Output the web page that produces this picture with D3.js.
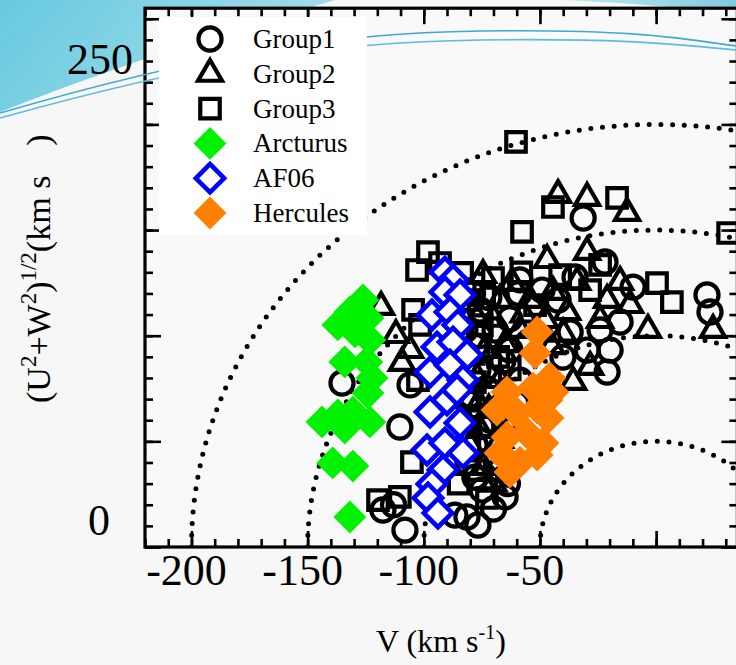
<!DOCTYPE html>
<html>
<head>
<meta charset="utf-8">
<script src="https://cdn.jsdelivr.net/npm/d3@7/dist/d3.min.js"></script>
<style>
  html, body { margin: 0; padding: 0; background: #f7f7f7; }
  svg { display: block; }
  text { font-family: "Liberation Serif", "Times New Roman", serif; fill: #000; }
</style>
</head>
<body>
<svg id="chart" width="736" height="665"></svg>
<script>
// ---- data: V (km/s) and (U^2+W^2)^1/2 (km/s) per star ----
const group1 = [
  [-31.4,155.7],[-22.0,134.9],[21.9,119.3],[23.2,111.2],[-9.9,123.0],[-34.9,127.8],
  [-58.6,126.4],[-49.1,121.6],[-15.5,106.5],[-29.7,93.2],[-19.8,93.2],[-21.1,82.8],
  [-37.0,101.8],[-40.1,89.9],[-135.2,77.6],[-110.3,56.8],[-117.6,17.5],[-108.1,8.0],
  [-76.7,10.4],[-65.0,23.7],[-86.6,15.1],[-105.9,76.7],[-75.8,112.2],[-69.3,102.7],
  [-76.7,83.8],[-62.9,93.2],[-80.1,71.9],[-71.5,60.1],[-77.9,48.3],[-67.2,36.4],
  [-74.9,27.0],[-24.1,102.7],[-42.2,116.9],[-82.3,102.7],[-58.6,79.0],[-71.5,41.2],
  [-81.4,14.2],[-72.0,118.0],[-63.0,108.0],[-66.0,88.0],[-78.0,95.0],[-60.0,68.0],
  [-70.0,73.0],[-75.0,57.0],[-64.0,30.0],[-78.0,33.0],[-70.0,18.0],[-59.0,120.0],
  [-55.0,97.0],[-83.0,85.0],[-113.0,20.0],[-79.0,120.0],[-81.0,40.0],[-76.0,100.0],
  [-73.0,75.0]
];
const group2 = [
  [-42.2,166.6],[-29.7,165.2],[-12.5,158.1],[-29.7,139.6],[-46.9,135.8],[-15.5,125.4],
  [-21.1,116.9],[-24.1,107.4],[-3.5,102.7],[24.5,102.7],[-118.4,113.6],[-112.0,100.3],
  [-105.9,93.2],[-109.4,87.1],[-34.0,125.4],[-44.4,120.7],[-38.3,111.2],[-28.4,85.2],
  [-35.7,78.1],[-74.5,37.9],[-67.2,116.9],[-58.6,102.7],[-73.7,93.2],[-80.1,69.6],
  [-67.2,79.0],[-54.3,116.9],[-75.8,55.4],[-47.8,107.4],[-11.2,114.5],[-74.5,128.7],
  [-78.0,64.8],[-67.2,50.6],[-62.0,125.0],[-70.0,108.0],[-65.0,96.0],[-77.0,80.0],
  [-72.0,65.0],[-62.0,58.0],[-80.0,48.0],[-70.0,30.0],[-57.0,110.0],[-45.0,95.0],
  [-40.0,101.0],[-80.0,90.0],[-77.0,108.0],[-81.0,58.0]
];
const group3 = [
  [-60.3,191.7],[-44.4,160.9],[-16.8,165.2],[-57.7,149.1],[31.0,148.6],[0.4,124.9],
  [6.8,115.9],[-98.2,139.6],[-102.9,131.1],[-93.0,134.4],[-83.5,129.7],[-70.2,127.3],
  [-104.6,112.2],[-101.6,105.1],[-119.7,22.2],[-110.3,23.7],[-72.8,23.2],[-105.1,40.2],
  [-80.1,116.9],[-52.1,114.5],[-24.1,133.5],[-28.4,121.6],[-102.5,79.0],[-77.9,36.4],
  [-41.3,128.7],[-65.0,60.1],[-75.0,105.0],[-68.0,90.0],[-80.0,60.0],[-72.0,48.0],
  [-63.0,84.0],[-85.0,30.0],[-58.0,130.0],[-78.0,78.0],[-74.0,120.0]
];
const arcturus = [
  [-126.2,116.9],[-131.8,111.2],[-137.0,105.1],[-124.0,108.4],[-129.6,101.8],[-123.2,98.0],
  [-134.0,87.6],[-124.5,87.6],[-122.3,80.0],[-124.0,72.9],[-143.8,59.2],[-137.0,62.5],
  [-130.5,63.9],[-123.2,59.2],[-134.0,56.3],[-139.2,39.8],[-130.5,38.3],[-131.8,14.2]
];
const af06 = [
  [-90.9,130.1],[-87.4,126.4],[-90.9,120.7],[-84.4,119.3],[-96.5,109.8],[-88.7,111.2],
  [-85.3,105.1],[-94.3,94.6],[-87.4,97.0],[-81.4,90.9],[-97.3,82.8],[-88.7,86.1],
  [-83.1,79.0],[-90.0,69.6],[-97.3,63.9],[-84.4,58.7],[-98.6,45.9],[-90.9,49.2],
  [-83.1,44.5],[-91.7,36.4],[-96.5,29.8],[-98.2,23.2],[-93.9,16.1],[-85.7,74.3]
];
const hercules = [
  [-51.2,101.8],[-52.1,91.8],[-45.7,80.0],[-64.2,73.4],[-53.0,75.2],[-44.4,73.4],
  [-68.5,64.8],[-59.9,63.4],[-51.2,65.8],[-46.5,61.1],[-64.2,52.1],[-55.6,54.0],
  [-48.7,49.2],[-67.2,44.5],[-58.6,40.2],[-51.2,43.5],[-62.9,35.5],[-46.9,69.6]
];
// constant total-velocity curves (km/s)
const totalVelocity = [50, 100, 150, 200];
const xTickValues = [-200, -150, -100, -50];
const xTickLabels = ["-200", "-150", "-100", "-50"];
const yTickLabels = ["0", "250"];
const legendNames = ["Group1", "Group2", "Group3", "Arcturus", "AF06", "Hercules"];

// ---- layout ----
const svg = d3.select("#chart");
const W = 736, H = 665;
const plot = { left: 145, right: 737.4, top: 8.2, bottom: 547 };
const x = d3.scaleLinear().domain([-220, 35]).range([plot.left, plot.right]);
const y = d3.scaleLinear().domain([0, 255]).range([plot.bottom, plot.top]);

const defs = svg.append("defs");
const g1 = defs.append("linearGradient").attr("id", "capL").attr("x1", "0").attr("y1", "0").attr("x2", "1").attr("y2", "0.3");
g1.append("stop").attr("offset", "0").attr("stop-color", "#66c9df");
g1.append("stop").attr("offset", "1").attr("stop-color", "#a6dfea");
const g2 = defs.append("linearGradient").attr("id", "capR").attr("x1", "0").attr("y1", "0").attr("x2", "1").attr("y2", "0");
g2.append("stop").attr("offset", "0").attr("stop-color", "#c3e9f1");
g2.append("stop").attr("offset", "1").attr("stop-color", "#7fcbdd");
defs.append("clipPath").attr("id", "plotClip").append("rect")
  .attr("x", plot.left).attr("y", plot.top)
  .attr("width", plot.right - plot.left).attr("height", plot.bottom - plot.top);

// slide backdrop
svg.append("rect").attr("width", W).attr("height", H).attr("fill", "#f7f7f7");
svg.append("path").attr("d", "M0,0 H335 C260,22 160,50 0,112 Z").attr("fill", "url(#capL)");
svg.append("path").attr("d", "M560,0 H736 V14 C690,8 630,3 560,0 Z").attr("fill", "url(#capR)");

// plot background
svg.append("rect").attr("x", plot.left).attr("y", plot.top)
  .attr("width", plot.right - plot.left).attr("height", plot.bottom - plot.top)
  .attr("fill", "#f9f9f9");

// dotted curves of constant total velocity
const arcLine = d3.line().x(d => x(d[0])).y(d => y(d[1]));
svg.append("g").attr("clip-path", "url(#plotClip)")
  .selectAll("path").data(totalVelocity).join("path")
  .attr("d", r => arcLine(d3.range(0, 181).map(a => {
    const t = Math.PI - a * Math.PI / 180;
    return [r * Math.cos(t), r * Math.sin(t)];
  })))
  .attr("fill", "none").attr("stroke", "#000").attr("stroke-width", 5)
  .attr("stroke-linecap", "round").attr("stroke-dasharray", "0 11.7");

// marker shapes
const sym = {
  circle: d3.symbol().type(d3.symbolCircle).size(420)(),
  triangle: d3.symbol().type(d3.symbolTriangle).size(250)(),
  square: d3.symbol().type(d3.symbolSquare).size(380)(),
  diamond: d3.symbol().type(d3.symbolSquare).size(540)(),
  openDiamond: d3.symbol().type(d3.symbolSquare).size(400)()
};
const styles = [
  { data: group1, d: sym.circle, fill: "none", stroke: "#000", sw: 4.2, rot: 0 },
  { data: group2, d: sym.triangle, fill: "none", stroke: "#000", sw: 4.2, rot: 0 },
  { data: group3, d: sym.square, fill: "none", stroke: "#000", sw: 4.2, rot: 0 },
  { data: arcturus, d: sym.diamond, fill: "#00f200", stroke: "none", sw: 0, rot: 45 },
  { data: af06, d: sym.openDiamond, fill: "#ffffff", stroke: "#0000ff", sw: 4.6, rot: 45 },
  { data: hercules, d: sym.diamond, fill: "#ff8000", stroke: "none", sw: 0, rot: 45 }
];
styles.forEach(s => {
  svg.append("g").selectAll("path").data(s.data).join("path")
    .attr("d", s.d)
    .attr("transform", d => `translate(${x(d[0])},${y(d[1])}) rotate(${s.rot})`)
    .attr("fill", s.fill).attr("stroke", s.stroke).attr("stroke-width", s.sw)
    .attr("stroke-linejoin", "miter");
});

// axes with inward ticks on all four sides
const major = d3.range(-200, 36, 50), minor = d3.range(-220, 36, 10);
const yMajor = d3.range(0, 256, 50), yMinor = d3.range(0, 256, 10);
function drawAxis(axisFn, scale, values, size, transform) {
  const g = svg.append("g").attr("transform", transform)
    .call(axisFn(scale).tickValues(values).tickSize(size).tickSizeOuter(0).tickFormat(""));
  g.select(".domain").remove();
  g.selectAll("line").attr("stroke", "#000").attr("stroke-width", 2.6);
}
drawAxis(d3.axisBottom, x, minor, -8, `translate(0,${plot.bottom})`);
drawAxis(d3.axisBottom, x, major, -16, `translate(0,${plot.bottom})`);
drawAxis(d3.axisTop, x, minor, -8, `translate(0,${plot.top})`);
drawAxis(d3.axisTop, x, major, -16, `translate(0,${plot.top})`);
drawAxis(d3.axisLeft, y, yMinor, -8, `translate(${plot.left},0)`);
drawAxis(d3.axisLeft, y, yMajor, -16, `translate(${plot.left},0)`);
drawAxis(d3.axisRight, y, yMinor, -8, `translate(${plot.right},0)`);
drawAxis(d3.axisRight, y, yMajor, -16, `translate(${plot.right},0)`);
svg.append("rect").attr("x", plot.left).attr("y", plot.top)
  .attr("width", plot.right - plot.left).attr("height", plot.bottom - plot.top)
  .attr("fill", "none").attr("stroke", "#000").attr("stroke-width", 3.2);

// tick labels
svg.append("g").selectAll("text").data(xTickValues).join("text")
  .attr("x", v => x(v) - 5).attr("y", plot.bottom + 38)
  .attr("text-anchor", "middle").style("font-size", "44px")
  .text((v, i) => xTickLabels[i]);
svg.append("text").attr("x", 110).attr("y", y(0) - 12)
  .attr("text-anchor", "end").style("font-size", "44px").text(yTickLabels[0]);
svg.append("text").attr("x", 133).attr("y", y(250) + 55)
  .attr("text-anchor", "end").style("font-size", "44px").text(yTickLabels[1]);

// axis titles
const xt = svg.append("text").attr("x", 376).attr("y", 652).style("font-size", "32px");
xt.append("tspan").text("V (km s");
xt.append("tspan").attr("dy", -13).style("font-size", "20px").text("-1");
xt.append("tspan").attr("dy", 13).text(")");

const yt = svg.append("text").attr("transform", "translate(50,403) rotate(-90)").style("font-size", "34px");
yt.append("tspan").text("(U");
yt.append("tspan").attr("dy", -14).style("font-size", "23px").text("2");
yt.append("tspan").attr("dy", 14).text("+W");
yt.append("tspan").attr("dy", -14).style("font-size", "23px").text("2");
yt.append("tspan").attr("dy", 14).text(")");
yt.append("tspan").attr("dy", -14).style("font-size", "23px").text("1/2");
yt.append("tspan").attr("dy", 14).text("(km s");
yt.append("tspan").attr("dx", 30).text(")");

// decorative swooshes
[["M0,113 C200,55 330,33 480,31 S680,38 736,46", "#3fa9d3"],
 ["M0,118 C200,62 330,42 480,40 S680,45 736,50", "#5bbbe0"]].forEach(([d, c]) => {
  svg.append("path").attr("d", d).attr("fill", "none").attr("stroke", c).attr("stroke-width", 1.6);
});

// legend
const lg = svg.append("g");
lg.append("rect").attr("x", 159).attr("y", 17).attr("width", 208).attr("height", 218).attr("fill", "#ffffff");
legendNames.forEach((name, i) => {
  const cy = 39 + i * 34.8;
  const s = styles[i];
  lg.append("path").attr("d", s.d)
    .attr("transform", `translate(210,${cy}) rotate(${s.rot})`)
    .attr("fill", s.fill).attr("stroke", s.stroke).attr("stroke-width", s.sw);
  lg.append("text").attr("x", 253).attr("y", cy + 9).style("font-size", "27px").text(name);
});
</script>
</body>
</html>
